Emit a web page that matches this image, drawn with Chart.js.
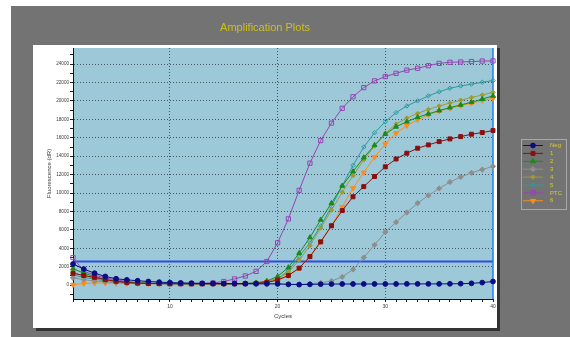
<!DOCTYPE html>
<html>
<head>
<meta charset="utf-8">
<script src="https://cdn.jsdelivr.net/npm/chart.js@4/dist/chart.umd.min.js"></script>
<style>
  html, body { margin: 0; padding: 0; background: #ffffff; }
  #wrap { position: relative; width: 570px; height: 337px; }
  canvas { display: block; }
</style>
</head>
<body>
<div id="wrap"><canvas id="amp" width="570" height="337"></canvas></div>
<script>
// Cycle numbers on the x axis
const cycles = [1,2,3,4,5,6,7,8,9,10,11,12,13,14,15,16,17,18,19,20,
                21,22,23,24,25,26,27,28,29,30,31,32,33,34,35,36,37,38,39,40];

// Fluorescence (dR) per cycle for each well
const negCtrl = [2300,1750,1300,950,700,580,480,400,330,280,250,220,200,190,180,170,160,150,150,140,
                 90,60,90,110,120,130,130,130,130,130,130,140,140,140,140,150,160,200,280,400];
const sample1 = [1300,1050,850,600,420,280,220,180,170,160,160,150,150,150,150,150,160,200,300,550,
                 1050,1850,3100,4700,6450,8100,9600,10700,11800,12850,13700,14330,14870,15230,15590,15880,16130,16390,16570,16790];
const sample2 = [1800,1300,950,650,450,320,240,190,170,160,150,150,150,150,150,160,180,250,450,950,
                 1920,3480,5180,7100,8900,10780,12340,13850,15200,16400,17200,17750,18230,18600,18950,19280,19570,19860,20200,20550];
const sample3 = [800,600,450,350,280,230,200,180,170,160,150,150,150,150,150,150,150,150,150,150,
                 100,80,150,250,450,900,1700,3000,4380,5760,6840,7890,8900,9750,10500,11200,11750,12200,12550,12900];
const sample4 = [1400,1000,750,550,400,300,230,190,170,160,150,150,150,150,150,150,170,220,350,700,
                 1400,2700,4300,6200,8150,10100,11900,13600,15100,16500,17500,18150,18650,19080,19450,19780,20080,20380,20650,20930];
const sample5 = [1100,850,650,480,360,280,220,190,170,160,150,150,150,150,150,160,180,240,380,700,
                 1560,3120,4600,6400,8550,10800,13000,15000,16550,17750,18740,19460,20010,20550,21000,21380,21630,21820,22030,22210];
const posCtrl = [3000,1500,1100,780,580,420,280,220,190,170,160,160,180,250,400,680,1000,1500,2570,4600,
                 7200,10300,13250,15700,17600,19200,20450,21450,22180,22650,23000,23350,23550,23830,24080,24200,24230,24280,24330,24350];
const sample6 = [50,180,230,230,200,180,170,160,160,160,150,150,150,150,150,150,170,220,330,590,
                 1050,1850,3120,4740,6480,8500,10530,12230,13900,15310,16500,17330,17950,18490,18900,19210,19500,19760,20040,20300];

const seriesNames = ['Neg', '1', '2', '3', '4', '5', 'PTC', '6'];
const seriesValues = [negCtrl, sample1, sample2, sample3, sample4, sample5, posCtrl, sample6];

// Threshold fluorescence and the cycle marked by the cursor line
const THRESHOLD = 2570;
const CURSOR_CYCLE = 40;

// Axis tick labels (y minor ticks every 1000, labels every 2000)
const yTickLabels = [0,2000,4000,6000,8000,10000,12000,14000,16000,18000,20000,22000,24000];
const yMinorTicks = [-1000,0,1000,2000,3000,4000,5000,6000,7000,8000,9000,10000,11000,12000,
                     13000,14000,15000,16000,17000,18000,19000,20000,21000,22000,23000,24000,25000];
const xTickLabels = [10,20,30,40];

// Drawing styles per series
const styles = [
  { color: '#0c0c84', fill: '#0c0c84', point: 'circle',   radius: 2.4, rot: 0 },
  { color: '#8a1010', fill: '#8a1010', point: 'rect',     radius: 2.8, rot: 0 },
  { color: '#1a8a1a', fill: '#1a8a1a', point: 'triangle', radius: 2.8, rot: 0 },
  { color: '#8e8e8e', fill: '#8e8e8e', point: 'rectRot',  radius: 2.6, rot: 0 },
  { color: '#9c9c36', fill: '#9c9c36', point: 'rectRot',  radius: 2.2, rot: 0 },
  { color: '#2a9aa0', fill: 'rgba(0,0,0,0)', point: 'rectRot', radius: 2.2, rot: 0 },
  { color: '#9444b4', fill: 'rgba(0,0,0,0)', point: 'rect', radius: 3.0, rot: 0 },
  { color: '#ff8c1a', fill: '#ff8c1a', point: 'triangle', radius: 2.9, rot: 180 }
];

const datasets = seriesValues.map((vals, i) => ({
  label: seriesNames[i],
  data: vals.map((v, j) => ({ x: cycles[j], y: v })),
  borderColor: styles[i].color,
  backgroundColor: styles[i].fill,
  borderWidth: 1,
  pointStyle: styles[i].point,
  pointRadius: styles[i].radius,
  pointRotation: styles[i].rot,
  pointBorderColor: styles[i].color,
  pointBackgroundColor: styles[i].fill,
  pointBorderWidth: 1,
  tension: 0,
  clip: 8
}));

const CLEAR = 'rgba(0,0,0,0)';
const GRID = '#46555e';
const TXT = '#3a3a3a';
const FONT = '"Liberation Sans", Arial, sans-serif';

// Page background, chart panel, drop shadow, plot area fill and heading
const backdrop = {
  id: 'backdrop',
  beforeDraw(chart) {
    const { ctx, chartArea: a } = chart;
    ctx.save();
    ctx.fillStyle = '#ffffff';
    ctx.fillRect(0, 0, 570, 337);
    ctx.fillStyle = '#737373';
    ctx.fillRect(11, 6, 559, 331);
    ctx.fillStyle = '#333333';
    ctx.fillRect(36, 48, 464, 283);
    ctx.fillStyle = '#ffffff';
    ctx.fillRect(33, 45, 464, 283);
    ctx.fillStyle = 'rgb(157,200,215)';
    ctx.fillRect(a.left, a.top, a.right - a.left, a.bottom - a.top);
    ctx.fillStyle = '#cdbf1c';
    ctx.font = '11px ' + FONT;
    ctx.textAlign = 'center';
    ctx.textBaseline = 'middle';
    ctx.fillText('Amplification Plots', 265, 28);
    ctx.restore();
  }
};

// Threshold line and cursor line, placed through the chart scales
const markers = {
  id: 'markers',
  beforeDatasetsDraw(chart) {
    const { ctx, chartArea: a, scales: { x, y } } = chart;
    ctx.save();
    const ty = y.getPixelForValue(THRESHOLD);
    ctx.strokeStyle = '#2c4ee0';
    ctx.lineWidth = 2;
    ctx.beginPath();
    ctx.moveTo(a.left, ty);
    ctx.lineTo(a.right, ty);
    ctx.stroke();
    const cx = x.getPixelForValue(CURSOR_CYCLE);
    ctx.strokeStyle = '#1f7cff';
    ctx.lineWidth = 1.5;
    ctx.beginPath();
    ctx.moveTo(cx, a.top);
    ctx.lineTo(cx, a.bottom);
    ctx.stroke();
    ctx.restore();
  }
};

// Boxed legend on the right of the panel
const sideLegend = {
  id: 'sideLegend',
  afterDraw(chart) {
    const { ctx } = chart;
    ctx.save();
    ctx.strokeStyle = '#a8a8a8';
    ctx.lineWidth = 1;
    ctx.strokeRect(521.5, 139.5, 45, 70);
    ctx.font = '6px ' + FONT;
    ctx.textAlign = 'left';
    ctx.textBaseline = 'middle';
    chart.data.datasets.forEach((ds, i) => {
      const yy = 145.5 + i * 7.9;
      ctx.strokeStyle = ds.borderColor;
      ctx.lineWidth = 1;
      ctx.beginPath();
      ctx.moveTo(523, yy);
      ctx.lineTo(543, yy);
      ctx.stroke();
      ctx.fillStyle = ds.pointBackgroundColor;
      ctx.strokeStyle = ds.pointBorderColor;
      Chart.helpers.drawPoint(ctx, {
        pointStyle: ds.pointStyle,
        radius: ds.pointRadius,
        rotation: ds.pointRotation,
        borderWidth: 1
      }, 533, yy);
      ctx.fillStyle = '#d8cc2a';
      ctx.fillText(ds.label, 550, yy);
    });
    ctx.restore();
  }
};

new Chart(document.getElementById('amp'), {
  type: 'line',
  data: { datasets },
  plugins: [backdrop, markers, sideLegend],
  options: {
    responsive: false,
    animation: false,
    devicePixelRatio: 1,
    layout: { padding: { left: 33, top: 48, right: 77, bottom: 9 } },
    plugins: { legend: { display: false }, tooltip: { enabled: false }, title: { display: false } },
    scales: {
      x: {
        type: 'linear',
        min: 1,
        max: 40,
        afterFit(s) { s.height = 29; },
        afterBuildTicks(s) { s.ticks = cycles.map(v => ({ value: v })); },
        ticks: {
          autoSkip: false,
          maxRotation: 0,
          padding: 2,
          color: TXT,
          font: { size: 5, family: FONT },
          callback: v => xTickLabels.includes(v) ? String(v) : ''
        },
        grid: {
          color: c => (c.tick && c.tick.value % 10 === 0 && c.tick.value < 40) ? GRID : CLEAR,
          tickColor: '#222222',
          tickLength: 3,
          lineWidth: 1
        },
        border: { display: true, color: '#111111', width: 1, dash: [1, 2] },
        title: {
          display: true,
          text: 'Cycles',
          color: TXT,
          font: { size: 6, family: FONT },
          padding: { top: 0, bottom: 8 }
        }
      },
      y: {
        min: -1500,
        max: 25750,
        afterFit(s) { s.width = 40; },
        afterBuildTicks(s) { s.ticks = yMinorTicks.map(v => ({ value: v })); },
        ticks: {
          autoSkip: false,
          padding: 1,
          color: TXT,
          font: { size: 4.6, family: FONT },
          callback: v => yTickLabels.includes(v) ? String(v) : ''
        },
        grid: {
          color: c => (c.tick && c.tick.value % 2000 === 0 && c.tick.value > 0) ? GRID : CLEAR,
          tickColor: '#222222',
          tickLength: 3,
          lineWidth: 1
        },
        border: { display: true, color: '#111111', width: 1, dash: [1, 2] },
        title: {
          display: true,
          text: 'Fluorescence (dR)',
          color: TXT,
          font: { size: 6, family: FONT },
          padding: { top: 13, bottom: 0 }
        }
      }
    }
  }
});
</script>
</body>
</html>
